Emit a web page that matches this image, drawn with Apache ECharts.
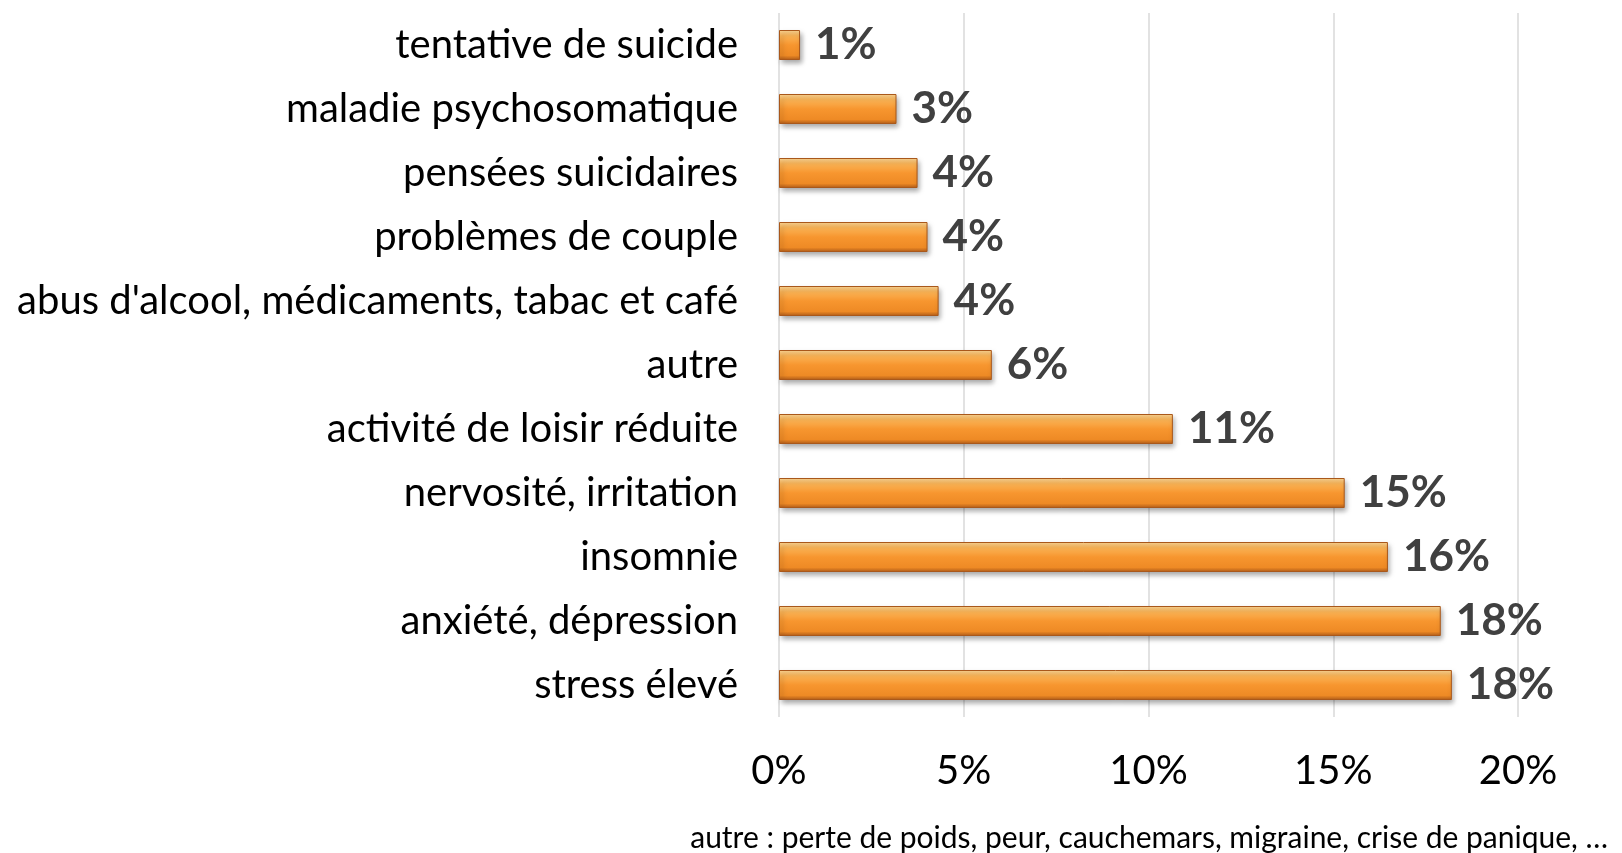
<!DOCTYPE html>
<html>
<head>
<meta charset="utf-8">
<script src="https://cdn.jsdelivr.net/npm/echarts@6/dist/echarts.min.js"></script>
<style>
  html, body { margin: 0; padding: 0; background: #fff; }
  #chart { width: 1622px; height: 853px; }
</style>
</head>
<body>
<div id="chart"></div>
<script>
// catégories, du bas vers le haut (ordre de l'axe)
const categories = [
  "stress élevé",
  "anxiété, dépression",
  "insomnie",
  "nervosité, irritation",
  "activité de loisir réduite",
  "autre",
  "abus d'alcool, médicaments, tabac et café",
  "problèmes de couple",
  "pensées suicidaires",
  "maladie psychosomatique",
  "tentative de suicide"
];
// valeurs en %
const values = [18.21, 17.91, 16.48, 15.31, 10.66, 5.76, 4.32, 4.02, 3.75, 3.18, 0.57];
const xTicks = [0, 5, 10, 15, 20];
const footnote = "autre : perte de poids, peur, cauchemars, migraine, crise de panique, …";

const FONT = "Lato, 'Open Sans', sans-serif";

let myChart = echarts.init(document.getElementById("chart"));
let option = {
  animation: false,
  grid: {
    left: 779,
    right: 104,
    top: 13,
    bottom: 136,
    containLabel: false
  },
  xAxis: {
    type: "value",
    min: xTicks[0],
    max: xTicks[xTicks.length - 1],
    interval: 5,
    axisLine: { show: false },
    axisTick: { show: false },
    splitLine: { show: true, lineStyle: { color: "#d9d9d9", width: 1.5 } },
    axisLabel: {
      margin: 34,
      fontFamily: FONT,
      fontSize: 40,
      color: "#000",
      formatter: "{value}%"
    }
  },
  yAxis: {
    type: "category",
    data: categories,
    axisLine: { show: false },
    axisTick: { show: false },
    axisLabel: {
      margin: 41,
      fontFamily: FONT,
      fontSize: 40,
      color: "#000"
    }
  },
  series: [
    {
      type: "bar",
      data: values,
      barWidth: 30,
      itemStyle: {
        // dégradé pour imiter le biseau
        color: new echarts.graphic.LinearGradient(0, 0, 0, 1, [
          { offset: 0, color: "#fed897" },
          { offset: 0.2, color: "#fbb355" },
          { offset: 0.5, color: "#f7962f" },
          { offset: 0.85, color: "#ee8a25" },
          { offset: 1, color: "#b25c1a" }
        ]),
        borderColor: "#a9581b",
        borderWidth: 1,
        shadowBlur: 5,
        shadowOffsetX: 2,
        shadowOffsetY: 3,
        shadowColor: "rgba(0,0,0,0.35)"
      },
      label: {
        show: true,
        position: "right",
        distance: 15,
        fontFamily: FONT,
        fontSize: 44,
        fontWeight: "bold",
        color: "#404040",
        formatter: p => Math.round(p.value) + "%"
      }
    }
  ],
  graphic: [
    {
      type: "text",
      right: 14,
      top: 823,
      style: {
        text: footnote,
        fontFamily: FONT,
        fontSize: 30,
        fill: "#000"
      }
    }
  ]
};
myChart.setOption(option);
</script>
</body>
</html>
